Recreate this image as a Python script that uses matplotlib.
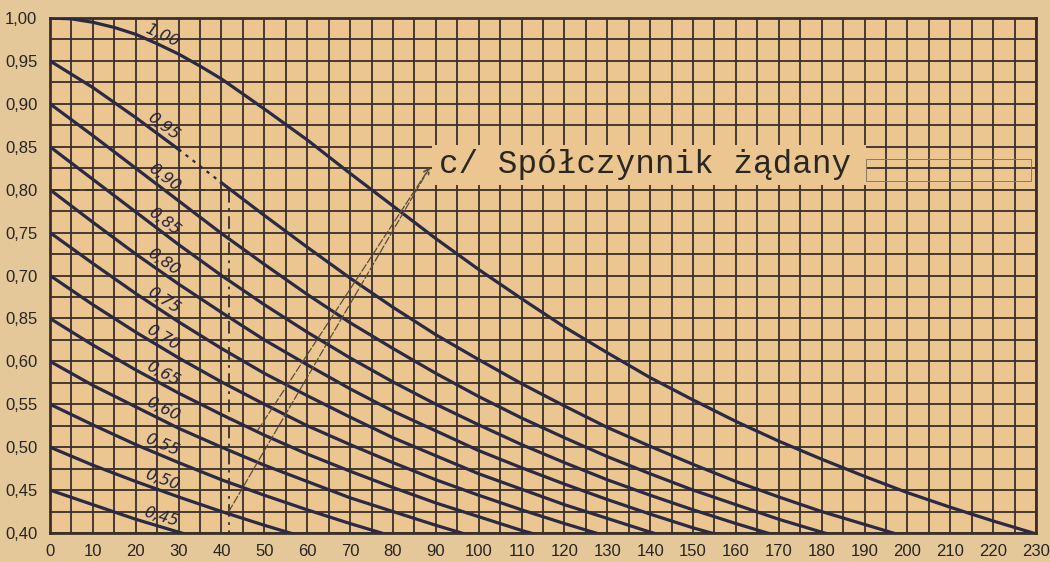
import numpy as np
import matplotlib.pyplot as plt
from matplotlib.patches import Rectangle

# x axis: percent, every 10
x_pct = [0, 10, 20, 30, 40, 50, 60, 70, 80, 90, 100, 110, 120,
         130, 140, 150, 160, 170, 180, 190, 200, 210, 220, 230]
# the 1.00 curve bends near the top, read it a bit closer there
x_c100 = [0, 5, 10, 15, 20, 25, 30, 35, 40, 50, 60, 70, 80, 90, 100, 110, 120,
          130, 140, 150, 160, 170, 180, 190, 200, 210, 220, 230]

# curves
curve_labels = ["1,00", "0,95", "0,90", "0,85", "0,80", "0,75",
                "0,70", "0,65", "0,60", "0,55", "0,50", "0,45"]
c100 = [1.000, 0.999, 0.995, 0.989, 0.981, 0.970, 0.958, 0.944, 0.929, 0.894, 0.858, 0.819,
        0.781, 0.743, 0.707, 0.673, 0.640, 0.610, 0.581, 0.555, 0.530, 0.507, 0.486, 0.466,
        0.447, 0.430, 0.414, 0.399]
c095 = [0.950, 0.919, 0.884, 0.847, 0.808, 0.770, 0.733, 0.697, 0.663, 0.631, 0.602,
        0.574, 0.548, 0.523, 0.501, 0.480, 0.460, 0.442, 0.425, 0.410, 0.395]
c090 = [0.900, 0.863, 0.825, 0.787, 0.749, 0.713, 0.678, 0.645, 0.615, 0.586,
        0.559, 0.534, 0.511, 0.489, 0.469, 0.450, 0.433, 0.416, 0.401, 0.387]
c085 = [0.850, 0.812, 0.774, 0.736, 0.700, 0.666, 0.634, 0.604, 0.576,
        0.550, 0.526, 0.503, 0.482, 0.462, 0.444, 0.427, 0.411, 0.396]
c080 = [0.800, 0.762, 0.725, 0.690, 0.657, 0.625, 0.596, 0.568, 0.542,
        0.519, 0.496, 0.476, 0.457, 0.439, 0.422, 0.406, 0.392]
c075 = [0.750, 0.714, 0.679, 0.646, 0.615, 0.586, 0.560, 0.535,
        0.511, 0.490, 0.469, 0.451, 0.433, 0.417, 0.401, 0.387]
c070 = [0.700, 0.666, 0.634, 0.604, 0.576, 0.550, 0.525,
        0.503, 0.482, 0.462, 0.444, 0.427, 0.411, 0.396]
c065 = [0.650, 0.619, 0.590, 0.563, 0.538, 0.514, 0.492,
        0.472, 0.453, 0.435, 0.419, 0.403, 0.389]
c060 = [0.600, 0.572, 0.547, 0.522, 0.500, 0.479, 0.460, 0.441, 0.425, 0.409, 0.394]
c055 = [0.550, 0.526, 0.503, 0.482, 0.462, 0.444, 0.427, 0.411, 0.396]
c050 = [0.500, 0.479, 0.460, 0.442, 0.425, 0.409, 0.394]
c045 = [0.450, 0.433, 0.416, 0.401, 0.387]
curves = [c100, c095, c090, c085, c080, c075, c070, c065, c060, c055, c050, c045]

y_ticks = [0.40, 0.45, 0.50, 0.55, 0.60, 0.65, 0.70, 0.75, 0.80, 0.85, 0.90, 0.95, 1.00]
y_ticklabels = ["0,40", "0,45", "0,50", "0,55", "0,60", "0,85", "0,70",
                "0,75", "0,80", "0,85", "0,90", "0,95", "1,00"]

# worked example: cos 0.95 -> 0.80
ex_x = 41.7
ex_y = 0.80

paper = "#ebc690"
ink = "#3a2f2a"
curve_col = "#2b2a44"

plt.rcParams['font.family'] = ['Liberation Sans', 'DejaVu Sans']

fig = plt.figure(figsize=(10.5, 5.62), dpi=100, facecolor="#e4c899")
ax = fig.add_axes([50 / 1050, 1 - 533 / 562, 986 / 1050, 515 / 562])
ax.set_facecolor(paper)
ax.set_xlim(0, 230)
ax.set_ylim(0.40, 1.00)

ax.set_xticks(np.arange(0, 231, 10))
ax.set_xticks(np.arange(0, 231, 5), minor=True)
ax.set_yticks(y_ticks)
ax.set_yticks(np.arange(0.40, 1.001, 0.025), minor=True)
ax.set_yticklabels(y_ticklabels)
ax.set_xticklabels([str(v) for v in range(0, 231, 10)])
ax.tick_params(which="both", length=0)
ax.tick_params(axis="y", pad=9, labelsize=12, colors="#2a2420")
ax.tick_params(axis="x", pad=8, labelsize=12, colors="#2a2420")
ax.grid(which="both", color=ink, lw=1.3)
ax.set_axisbelow(True)
for s in ax.spines.values():
    s.set_color(ink)
    s.set_linewidth(2)


def curve_x(ys):
    return np.array(x_c100 if ys is c100 else x_pct[:len(ys)], dtype=float)


for lab, ys in zip(curve_labels, curves):
    xx = curve_x(ys)
    if lab == "0,95":
        # part of this curve is drawn dotted in the example
        ax.plot(xx[:4], ys[:4], color=curve_col, lw=2.3, zorder=3)
        ax.plot(xx[3:5], ys[3:5], color=curve_col, lw=1.6, ls=(0, (1.5, 2.5)), zorder=3)
        ax.plot(xx[4:], ys[4:], color=curve_col, lw=2.3, zorder=3)
    else:
        ax.plot(xx, ys, color=curve_col, lw=2.3, zorder=3)

# curve labels, rotated along the curve
for lab, ys in zip(curve_labels, curves):
    xx = curve_x(ys)
    lx = 25.5
    ly = np.interp(lx, xx, ys)
    p1 = ax.transData.transform((20, np.interp(20, xx, ys)))
    p2 = ax.transData.transform((30, np.interp(30, xx, ys)))
    ang = np.degrees(np.arctan2(p2[1] - p1[1], p2[0] - p1[0]))
    ax.text(lx, ly + 0.003, lab, rotation=ang, rotation_mode="anchor",
            ha="center", va="bottom", fontsize=11.5, style="italic",
            family=["DejaVu Sans"], color="#26223a", zorder=4)

# example construction lines
ax.plot([0, ex_x], [ex_y, ex_y], color=ink, lw=1.3, ls=(0, (6, 4)), zorder=3)
ax.plot([ex_x, ex_x], [ex_y, 0.40], color=ink, lw=1.3, ls=(0, (7, 3, 1.5, 3)), zorder=3)

# label box with arrows
ax.add_patch(Rectangle((89.1, 0.805), 101.3, 0.0465, fc=paper, ec="none", zorder=5))
ax.add_patch(Rectangle((190.4, 0.8105), 38.5, 0.0255, fc="none", ec="#8a7860",
                       lw=0.7, zorder=5))
ax.text(90.8, 0.829, "c/ Spółczynnik żądany", family=["Liberation Mono", "DejaVu Sans Mono"],
        fontsize=23.5, color="#2a2622", va="center", ha="left", zorder=6)
arrow_tip = (88.6, 0.826)
for start in [(ex_x, 0.425), (48.5, 0.52)]:
    ax.annotate("", xy=arrow_tip, xytext=start, zorder=5,
                arrowprops=dict(arrowstyle="->", color="#5a4c3c", lw=0.9,
                                ls=(0, (6, 2)), shrinkA=0, shrinkB=0))

fig.savefig("out.png", dpi=100, facecolor=fig.get_facecolor())
